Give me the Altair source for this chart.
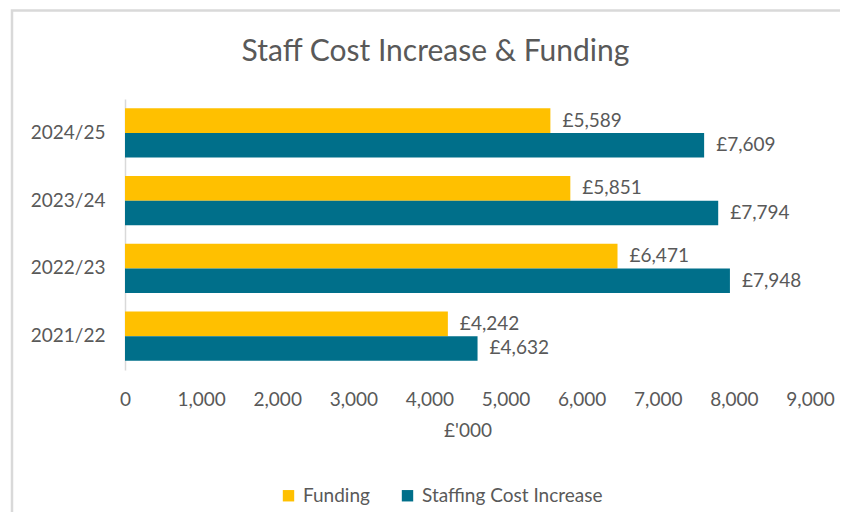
import altair as alt
import pandas as pd

years = ["2024/25", "2023/24", "2022/23", "2021/22"]
funding = [5589, 5851, 6471, 4242]
staffing = [7609, 7794, 7948, 4632]
series = ["Funding", "Staffing Cost Increase"]
colors = ["#FFC000", "#006F8A"]
x_ticks = [0, 1000, 2000, 3000, 4000, 5000, 6000, 7000, 8000, 9000]

rows = []
for y, f, s in zip(years, funding, staffing):
    rows.append({"year": y, "series": series[0], "value": f})
    rows.append({"year": y, "series": series[1], "value": s})
df = pd.DataFrame(rows)

FONT = "Lato"
GREY = "#595959"

base = alt.Chart(df).encode(
    y=alt.Y("year:N", sort=years, title=None,
            scale=alt.Scale(paddingInner=0.27, paddingOuter=0.135),
            axis=alt.Axis(ticks=False, tickSize=0, labelPadding=20, domainColor="#D9D9D9",
                          domainWidth=1.5, labelFontSize=19, labelColor=GREY, labelFont=FONT)),
    yOffset=alt.YOffset("series:N", sort=series, scale=alt.Scale(paddingInner=0, paddingOuter=0)),
)

bars = base.mark_bar().encode(
    x=alt.X("value:Q", title="£'000",
            scale=alt.Scale(domain=[0, 9000], nice=False),
            axis=alt.Axis(values=x_ticks, format=",.0f", grid=False,
                          domain=False, ticks=False, tickSize=0, labelPadding=20,
                          labelFlush=False, labelOverlap=False,
                          labelFontSize=19, labelColor=GREY, labelFont=FONT,
                          titleFontSize=19, titleColor=GREY, titleFont=FONT,
                          titleFontWeight="normal", titlePadding=12)),
    color=alt.Color("series:N", sort=series,
                    scale=alt.Scale(domain=series, range=colors),
                    legend=alt.Legend(title=None, orient="none", direction="horizontal",
                                      legendX=154, legendY=387, symbolType="square",
                                      symbolSize=130, symbolStrokeWidth=0, labelFontSize=19,
                                      labelColor=GREY, labelFont=FONT, labelOffset=5,
                                      labelLimit=400, columnPadding=28)),
)

labels = base.mark_text(align="left", baseline="middle", dx=12, fontSize=19,
                        color=GREY, font=FONT).transform_calculate(
    lab="'£' + format(datum.value, ',')"
).encode(x="value:Q", text="lab:N")

frame = alt.Chart(pd.DataFrame({"a": [0]})).mark_rect(
    fill=None, stroke="#D9D9D9", strokeWidth=2.5
).encode(x=alt.value(-113), x2=alt.value(760), y=alt.value(-88.5), y2=alt.value(460))

chart = alt.layer(frame, bars, labels).properties(
    width=685, height=271,
    title=alt.TitleParams("Staff Cost Increase & Funding", fontSize=30, color=GREY,
                          font=FONT, fontWeight="normal", anchor="middle", dx=-32,
                          offset=0, baseline="alphabetic", dy=82),
    autosize=alt.AutoSizeParams(type="none"),
    padding={"left": 117, "top": 91, "right": 30, "bottom": 142},
).configure_view(stroke=None)

chart.save("out.html", embed_options={"renderer": "svg", "actions": False})
